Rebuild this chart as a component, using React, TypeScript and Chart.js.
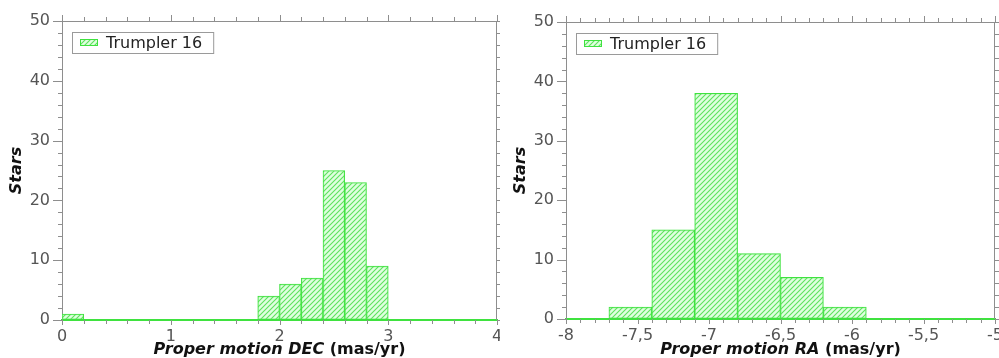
import React, { useEffect, useRef } from "react";
import { Chart, registerables } from "chart.js";

Chart.register(...registerables);

const SERIES_LABEL = "Trumpler 16";

// Left panel: Proper motion DEC, bins of width 0.2
const decBinStarts = [0, 0.2, 0.4, 0.6, 0.8, 1.0, 1.2, 1.4, 1.6, 1.8, 2.0, 2.2, 2.4, 2.6, 2.8, 3.0, 3.2, 3.4, 3.6, 3.8];
const decCounts = [1, 0, 0, 0, 0, 0, 0, 0, 0, 4, 6, 7, 25, 23, 9, 0, 0, 0, 0, 0];
const decBinWidth = 0.2;
const decTitleItalic = "Proper motion DEC ";
const decTitleUnit = "(mas/yr)";

// Right panel: Proper motion RA, bins of width 0.3
const raBinStarts = [-8.0, -7.7, -7.4, -7.1, -6.8, -6.5, -6.2, -5.9, -5.6, -5.3];
const raCounts = [0, 2, 15, 38, 11, 7, 2, 0, 0, 0];
const raBinWidth = 0.3;
const raTitleItalic = "Proper motion RA ";
const raTitleUnit = "(mas/yr)";

const yTitle = "Stars";

const FONT = "DejaVu Sans";
const FRAME = "#8e8e8e";
const GREEN = "#3fe23f";
const TICK_TEXT = "#555555";

function makeHatch(ctx: CanvasRenderingContext2D) {
  const c = document.createElement("canvas");
  c.width = 5;
  c.height = 5;
  const g = c.getContext("2d")!;
  g.fillStyle = "rgba(215,255,215,0.8)";
  g.fillRect(0, 0, 5, 5);
  g.strokeStyle = "#5ee25e";
  g.lineWidth = 1.1;
  g.beginPath();
  g.moveTo(0, 5);
  g.lineTo(5, 0);
  g.moveTo(-1, 1);
  g.lineTo(1, -1);
  g.moveTo(4, 6);
  g.lineTo(6, 4);
  g.stroke();
  return ctx.createPattern(c, "repeat")!;
}

type PanelProps = {
  binStarts: number[];
  counts: number[];
  binWidth: number;
  xMin: number;
  xMax: number;
  xStep: number;
  xMinorStep: number;
  titleItalic: string;
  titleUnit: string;
  yWidth: number;
  xHeight: number;
  padTop: number;
  padRight: number;
  width: number;
  left: number;
};

function Panel(p: PanelProps) {
  const ref = useRef<HTMLCanvasElement | null>(null);
  useEffect(() => {
    const canvas = ref.current!;
    const ctx0 = canvas.getContext("2d")!;
    const pattern = makeHatch(ctx0);
    const data = p.binStarts.map((s, i) => ({ x: s + p.binWidth / 2, y: p.counts[i] }));

    const decor = {
      id: "decor",
      afterDraw(chart: any) {
        const { ctx, chartArea: a, scales } = chart;
        const xs = scales.x;
        const ys = scales.y;
        ctx.save();
        ctx.strokeStyle = FRAME;
        ctx.lineWidth = 1;
        ctx.beginPath();
        ctx.moveTo(a.left, a.top + 0.5);
        ctx.lineTo(a.right, a.top + 0.5);
        ctx.moveTo(a.right - 0.5, a.top);
        ctx.lineTo(a.right - 0.5, a.bottom);
        ctx.stroke();

        // x ticks (bottom + top)
        ctx.beginPath();
        const nx = Math.round((p.xMax - p.xMin) / p.xMinorStep);
        for (let i = 0; i <= nx; i++) {
          const v = p.xMin + i * p.xMinorStep;
          const px = Math.round(xs.getPixelForValue(v)) + 0.5;
          const ratio = (v - p.xMin) / p.xStep;
          const major = Math.abs(ratio - Math.round(ratio)) < 1e-6;
          const lb = major ? 5 : 4;
          const lt = major ? 6 : 4;
          ctx.moveTo(px, a.bottom);
          ctx.lineTo(px, a.bottom + lb);
          ctx.moveTo(px, a.top);
          ctx.lineTo(px, a.top - lt);
        }
        // y ticks (left + right)
        for (let v = 0; v <= 50; v += 2) {
          const py = Math.round(ys.getPixelForValue(v)) + 0.5;
          const major = v % 10 === 0;
          const ll = major ? 9 : 4;
          const lr = major ? 8 : 4;
          ctx.moveTo(a.left - ll, py);
          ctx.lineTo(a.left, py);
          ctx.moveTo(a.right, py);
          ctx.lineTo(a.right + lr, py);
        }
        ctx.stroke();

        // legend
        ctx.font = `16px "${FONT}"`;
        const tw = ctx.measureText(SERIES_LABEL).width;
        const bx = a.left + 10;
        const by = a.top + 11;
        const bw = 8 + 18 + 8 + tw + 11;
        const bh = 21;
        ctx.fillStyle = "#ffffff";
        ctx.fillRect(bx, by, bw, bh);
        ctx.strokeStyle = "#9a9a9a";
        ctx.strokeRect(bx + 0.5, by + 0.5, bw, bh);
        ctx.fillStyle = pattern;
        ctx.fillRect(bx + 8, by + 7, 18, 7);
        ctx.strokeStyle = GREEN;
        ctx.strokeRect(bx + 8.5, by + 7.5, 17, 6);
        ctx.fillStyle = "#222222";
        ctx.textBaseline = "middle";
        ctx.textAlign = "left";
        ctx.fillText(SERIES_LABEL, bx + 34, by + bh / 2 + 1);

        // x title
        ctx.font = `italic bold 16px "${FONT}"`;
        const w1 = ctx.measureText(p.titleItalic).width;
        ctx.font = `bold 16px "${FONT}"`;
        const w2 = ctx.measureText(p.titleUnit).width;
        const cx = (a.left + a.right) / 2;
        const sx = cx - (w1 + w2) / 2;
        ctx.textBaseline = "alphabetic";
        ctx.fillStyle = "#111111";
        ctx.font = `italic bold 16px "${FONT}"`;
        ctx.fillText(p.titleItalic, sx, 354);
        ctx.font = `bold 16px "${FONT}"`;
        ctx.fillText(p.titleUnit, sx + w1, 354);

        // y title
        ctx.save();
        ctx.translate(a.left - 45, (a.top + a.bottom) / 2);
        ctx.rotate(-Math.PI / 2);
        ctx.font = `italic bold 16px "${FONT}"`;
        ctx.textAlign = "center";
        ctx.textBaseline = "middle";
        ctx.fillText(yTitle, 0, 0);
        ctx.restore();

        ctx.restore();
      },
    };

    const chart = new Chart(canvas, {
      type: "bar",
      data: {
        datasets: [
          {
            label: SERIES_LABEL,
            data: data as any,
            backgroundColor: pattern as any,
            borderColor: GREEN,
            borderWidth: 1,
            borderSkipped: false,
            barPercentage: 1,
            categoryPercentage: 1,
          },
        ],
      },
      options: {
        animation: false,
        responsive: false,
        maintainAspectRatio: false,
        events: [],
        layout: { padding: { left: 0, right: p.padRight, top: p.padTop, bottom: 0 } },
        plugins: {
          legend: { display: false },
          tooltip: { enabled: false },
          title: { display: false },
        },
        scales: {
          x: {
            type: "linear",
            min: p.xMin,
            max: p.xMax,
            offset: false,
            grid: { display: true, color: "rgba(0,0,0,0)", drawOnChartArea: false, drawTicks: true, tickLength: 5, offset: false, tickColor: "rgba(0,0,0,0)" },
            border: { display: true, color: GREEN, width: 2 },
            ticks: {
              stepSize: p.xStep,
              padding: 2,
              color: TICK_TEXT,
              font: { family: FONT, size: 16 },
              maxRotation: 0,
              autoSkip: false,
              callback: (v: any) => String(Math.round(Number(v) * 10) / 10).replace(".", ","),
            },
            afterFit: (s: any) => {
              s.height = p.xHeight;
              s.paddingLeft = 0;
              s.paddingRight = 0;
            },
          },
          y: {
            type: "linear",
            min: 0,
            max: 50,
            grid: { display: true, color: "rgba(0,0,0,0)", drawOnChartArea: false, drawTicks: true, tickLength: 9, tickColor: "rgba(0,0,0,0)" },
            border: { display: true, color: FRAME, width: 1 },
            ticks: {
              stepSize: 10,
              padding: 3,
              color: TICK_TEXT,
              font: { family: FONT, size: 16 },
            },
            afterFit: (s: any) => {
              s.width = p.yWidth;
              s.paddingTop = 0;
              s.paddingBottom = 0;
            },
          },
        },
      },
      plugins: [decor],
    });
    return () => chart.destroy();
  }, []);
  return (
    <canvas
      ref={ref}
      width={p.width}
      height={358}
      style={{ position: "absolute", left: p.left, top: 0, width: p.width, height: 358 }}
    />
  );
}

export default function App() {
  return (
    <div style={{ position: "fixed", left: 0, top: 0, width: 999, height: 358, background: "#ffffff", overflow: "hidden" }}>
      <Panel
        binStarts={decBinStarts}
        counts={decCounts}
        binWidth={decBinWidth}
        xMin={0}
        xMax={4}
        xStep={1}
        xMinorStep={0.2}
        titleItalic={decTitleItalic}
        titleUnit={decTitleUnit}
        yWidth={62}
        xHeight={38}
        padTop={21}
        padRight={3}
        width={500}
        left={0}
      />
      <Panel
        binStarts={raBinStarts}
        counts={raCounts}
        binWidth={raBinWidth}
        xMin={-8}
        xMax={-5}
        xStep={0.5}
        xMinorStep={0.1}
        titleItalic={raTitleItalic}
        titleUnit={raTitleUnit}
        yWidth={66}
        xHeight={39}
        padTop={22}
        padRight={4}
        width={499}
        left={500}
      />
    </div>
  );
}
